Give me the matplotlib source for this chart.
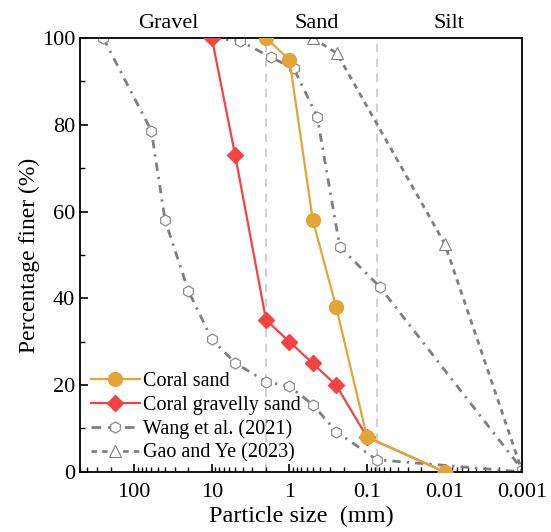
import matplotlib
matplotlib.use("Agg")
import matplotlib.pyplot as plt
from matplotlib.lines import Line2D
from matplotlib.transforms import blended_transform_factory

plt.rcParams['font.family'] = ['Liberation Serif', 'DejaVu Serif']
plt.rcParams['mathtext.fontset'] = 'stix'

# ---- data ----
coral_sand_x = [2, 1, 0.5, 0.25, 0.1, 0.01]
coral_sand_y = [100, 95, 58, 38, 8, 0]

coral_gravelly_x = [10, 5, 2, 1, 0.5, 0.25, 0.1, 0.01]
coral_gravelly_y = [100, 73, 35, 30, 25, 20, 8, 0]

wang_a_x = [250, 60, 40, 20, 10, 5, 2, 1, 0.5, 0.25, 0.075, 0.001]
wang_a_y = [100, 78.6, 58, 41.7, 30.6, 25.1, 20.8, 19.7, 15.5, 9.3, 2.8, 0]

wang_b_x = [10, 4.3, 1.75, 0.88, 0.44, 0.225, 0.069, 0.001]
wang_b_y = [100, 99.3, 95.6, 93, 81.9, 51.9, 42.7, 0.5]

gao_x = [0.5, 0.245, 0.01, 0.001]
gao_y = [100, 96.5, 52.6, 0]

boundaries = [2, 0.075]
region_labels = ["Gravel", "Sand", "Silt"]
region_label_x = [36, 0.44, 0.0089]

xticks = [100, 10, 1, 0.1, 0.01, 0.001]
xticklabels = ["100", "10", "1", "0.1", "0.01", "0.001"]
yticks = [0, 20, 40, 60, 80, 100]

# ---- figure ----
fig = plt.figure(figsize=(5.51, 5.32), dpi=100)
ax = fig.add_axes([0.145, 0.113, 0.803, 0.8155])

orange = '#E3A535'
red = '#F54242'
gray = '#7F7F7F'

for b in boundaries:
    ax.axvline(b, color='#C8C8C8', lw=1.2, ls=(0, (5, 4)), zorder=1)

dashdot = (0, (3, 2.2, 0.8, 2.2))
ax.plot(wang_a_x, wang_a_y, color=gray, lw=2, ls=dashdot,
        marker='h', ms=8, mfc='white', mec=gray, mew=0.8, zorder=2)
ax.plot(wang_b_x, wang_b_y, color=gray, lw=2, ls=dashdot,
        marker='h', ms=8, mfc='white', mec=gray, mew=0.8, zorder=2)
ax.plot(gao_x, gao_y, color=gray, lw=2, ls=(0, (2, 1.8)),
        marker='^', ms=9, mfc='white', mec=gray, mew=0.8, zorder=2)

ax.plot(coral_gravelly_x, coral_gravelly_y, color=red, lw=1.6,
        marker='D', ms=8.5, mfc=red, mec=red, zorder=3)
ax.plot(coral_sand_x, coral_sand_y, color=orange, lw=1.6,
        marker='o', ms=10, mfc=orange, mec=orange, zorder=4)

ax.set_xscale('log')
ax.set_xlim(500, 0.001)
ax.set_ylim(0, 100)
ax.set_xticks(xticks)
ax.set_xticklabels(xticklabels)
ax.set_yticks(yticks)
ax.set_yticks([10, 30, 50, 70, 90], minor=True)

ax.tick_params(which='both', direction='in', top=False, right=False,
               labelsize=16)
ax.tick_params(which='major', length=6, width=1.2)
ax.tick_params(which='minor', length=3.5, width=1)
ax.tick_params(axis='x', pad=8)
for s in ax.spines.values():
    s.set_linewidth(1.3)

ax.set_xlabel('Particle size  (mm)', fontsize=17.5, labelpad=3)
ax.set_ylabel('Percentage finer (%)', fontsize=17, labelpad=1)

trans = blended_transform_factory(ax.transData, ax.transAxes)
for lx, lab in zip(region_label_x, region_labels):
    ax.text(lx, 1.012, lab, transform=trans, ha='center', va='bottom',
            fontsize=16)

legend_handles = [
    Line2D([], [], color=orange, lw=1.6, marker='o', ms=10, mfc=orange, mec=orange),
    Line2D([], [], color=red, lw=1.6, marker='D', ms=8.5, mfc=red, mec=red),
    Line2D([], [], color=gray, lw=2, ls=(0, (3.5, 2.5)), marker='h', ms=8,
           mfc='white', mec=gray, mew=0.8),
    Line2D([], [], color=gray, lw=2, ls=(0, (2, 1.8)), marker='^', ms=9,
           mfc='white', mec=gray, mew=0.8),
]
legend_labels = ['Coral sand', 'Coral gravelly sand', 'Wang et al. (2021)',
                 'Gao and Ye (2023)']
ax.legend(legend_handles, legend_labels,
          loc='lower left', frameon=False, fontsize=14.5,
          handlelength=2.4, handletextpad=0.15, labelspacing=0.22,
          borderaxespad=0.05, bbox_to_anchor=(0.005, 0.0))

fig.savefig('out.png', dpi=100)
